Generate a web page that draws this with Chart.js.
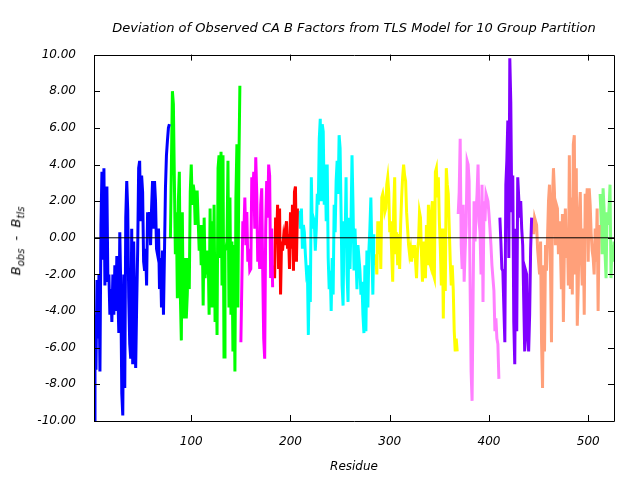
<!DOCTYPE html>
<html>
<head>
<meta charset="utf-8">
<script src="https://cdn.jsdelivr.net/npm/chart.js@4.4.1/dist/chart.umd.min.js"></script>
<style>
  body { margin: 0; background: #fff; }
  #wrap { position: relative; width: 640px; height: 480px; }
  #ylab {
    position: absolute; left: 17px; top: 241px;
    transform: translate(-50%, -50%) rotate(-90deg);
    font-family: 'DejaVu Sans', sans-serif; font-style: italic; font-size: 13px;
    white-space: nowrap; color: #000;
  }
  #ylab sub { font-size: 10px; }
</style>
</head>
<body>
<div id="wrap">
  <canvas id="myChart" width="640" height="480"></canvas>
  <div id="ylab">B<sub>obs</sub>&nbsp; - &nbsp;B<sub>tls</sub></div>
</div>
<script>
'use strict';
// residue ranges of the 10 TLS groups
const groupStarts = [2, 79, 150, 183, 208, 285, 369, 411, 444, 512];
const groupColors = ['#0000ff', '#00ff00', '#ff00ff', '#ff0000', '#00ffff',
  '#ffff00', '#ff80ff', '#8000ff', '#ffa07a', '#80ff80'];

// B_obs - B_tls per residue, one array per group
const group1 = [-10.3, -4.2, -7.2, -2.3, -5.5, -2.0, -7.3, 0.7, 3.6, -1.2,
  3.8, -2.6, 2.4, 2.8, -2.4, -2.0, -4.2, -2.8, -4.6, -2.0,
  -4.2, -1.5, -4.0, -1.0, -3.0, -5.2, 0.3, -2.8, -8.5, -9.7,
  -2.0, -8.2, 1.1, 3.1, 1.5, -3.3, -5.8, -6.6, 0.5, -6.9,
  -0.2, -4.2, -7.1, -3.7, -0.7, 3.8, 4.2, 0.9, 3.4, 2.5,
  -1.3, -1.8, -0.6, -2.6, 1.4, 0.5, 1.4, -0.4, 1.6, 3.1,
  0.5, 3.1, 2.0, -0.6, -0.9, 0.5, -2.8, -1.1, -3.8, -0.7,
  -4.2, -0.9, 2.7, 4.5, 5.3, 6.0, 6.2];
const group2 = [0.0, 4.0, 8.0, 7.3, 3.1, -0.9, 1.4, -3.3, 2.0, 3.6,
  -3.1, -5.6, 1.4, -4.4, -3.1, -1.1, -4.4, -3.1, -1.1, -2.8,
  2.5, 4.0, 1.8, 2.9, 2.5, 0.7, 2.5,
  2.5, 0.9, -0.7, 0.7, -1.5, 0.7, -3.7, 1.1, -2.2, -0.7,
  -2.0, -0.7, -4.2, 1.6, -3.8, 0.9, -3.8, 1.8, -4.6, -1.1,
  -5.3, 3.8, 4.5, -1.1, 4.7, -2.6, 4.5, -6.5, -0.7, -0.6,
  -0.2, 4.2, -3.8, 2.2, -4.2, -0.2, -6.2, -0.4, -7.3, 2.2,
  5.1, -3.8, 4.0, 8.3];
const group3 = [-5.7, -2.4, 0.9, 0.2, 2.2, -0.4, 1.4, -1.3, -0.6, -1.8,
  -1.7, 3.3, 2.5, 3.6, 0.5, 4.4, 2.4, -1.3, -0.6, -1.7,
  1.8, 2.7, -1.7, -5.5, -6.6, 0.5, 3.1, 1.1, 4.0, 3.4,
  -2.2, 0.5, -2.7];
const group4 = [-1.5, -2.2, 1.1, -0.2, 1.8, -1.7, 1.6, -3.1, -0.2, -0.7,
  0.0, -0.4, 0.5, 0.9, -0.6, 0.2, -1.7, 1.4, -0.6, 1.8,
  -1.8, 2.5, 2.8, -1.3, 1.6];
const group5 = [1.4, 1.4, 0.5, 1.6, -0.6, 0.7, 0.3, -0.9, -1.8, -1.5, -5.3,
  -1.5, -3.5, 3.3, 0.5, 1.1, 0.9, -0.7, 0.5, 2.4, 1.8,
  5.4, 6.5, 2.0, 6.2, 5.8, 1.8, 4.0, 0.9, 4.0, -1.1,
  -2.8, -1.8, -4.0, -1.1, -3.1, 1.8, 0.3, 3.1, 4.2, 2.4,
  5.6, 4.9, 1.3, -2.6, -3.7, 0.9, -0.4, 3.3, -2.0, -3.5,
  1.1, -1.7, 0.9, 4.5, 1.8, -1.7, 0.5, -1.1, -2.8, -0.4,
  -1.1, -1.8, -3.1, -2.4, -4.2, -5.2, -1.5, -5.1, -0.7, -3.8,
  -0.7, 0.5, 2.2, -0.7, -3.1, 0.2];
const group6 = [-1.5, -0.9, -2.0, 0.9, -0.9, 0.9, -1.7, 2.2, 2.4, 2.0,
  1.4, 1.6, 2.9, 3.3, 2.5, 0.3, 0.9, -0.9, -2.4, 1.6,
  3.3, -0.9, 0.3, -1.5, 0.2, -1.7, 0.7, 2.2, 3.3,
  4.0, 3.4, 3.1, 1.4, 0.5, -0.4, -0.9, -0.6, -1.3, -0.4,
  -1.1, -0.4, -1.3, -2.2, -0.7, -0.2, 1.4, 1.1, -0.9, -2.4,
  -0.2, -1.5, -2.2, 0.7, -1.5, 1.8, -1.3, -1.5, 1.4, 2.0,
  -2.0, -2.2, 3.6, 3.8, 2.2, 3.3, 0.9, -0.6, -2.6, 0.5,
  -4.4, 0.5, -2.9, 3.8, 2.9, 2.4, 0.5, -1.3, -2.6, -1.5,
  -2.8, -5.1, -6.2, -5.5, -6.2];
const group7 = [1.3, 2.5, 5.4, -0.4, -1.7, 1.8, -2.4, -0.7, 0.7, 4.2,
  4.0, 3.1, -2.6, -7.3, -8.9, -3.3, 2.0, -0.2, 1.4, 2.4,
  4.0, 0.9, 0.3, -2.0, 2.9, -3.5, 2.0, 0.9, 2.4, 2.2,
  2.0, 1.3, 0.5, -0.4, -1.5, -2.2, -2.9, -5.1, -4.4, -5.5,
  -5.8, -7.7];
const group8 = [1.1, -0.2, -1.7, -1.8, -3.8, -5.7, 2.9, 4.2, 6.4, -1.1,
  9.8, 7.4, 1.4, 3.4, -4.6, -6.9, 0.5, -5.1, 3.3, 2.2,
  1.1, 2.0, 0.5, -0.4, -3.3, -6.2, -1.8, -2.0, -5.5, -6.2,
  -4.2, -0.6, 1.1];
const group9 = [0.9, 0.2, 1.1, 0.9, 0.7, -0.6, -1.3, -2.0, -0.2, -5.7,
  -8.2, -1.5, -6.2, -0.4, -1.8, 0.0, 2.0, 2.9, -1.7, -5.7,
  2.2, 3.8, 2.5, -0.4, 1.8, 1.6, -0.9, 0.9, -0.6, -2.8,
  1.3, -4.6, -0.6, 1.6, -1.1, 0.3, -2.6, 4.5, -2.8, 2.2,
  -3.1, 5.1, 5.6, -2.0, 3.8, -4.8, -2.6, 1.3, 2.5, -0.9,
  -2.6, 0.5, -4.2, 2.4, 1.6, 2.7, -1.3, 2.7, 1.8, 0.2,
  -0.7, -1.1, -2.0, 0.5, -1.3, 1.6, -4.0, 0.7];
const group10 = [2.4, 1.1, -0.9, 2.7, 1.6, -0.9, -2.2, 1.4, 0.7, 1.6,
  2.9, -2.2, -0.4, -1.3, -0.2];

const groups = [group1, group2, group3, group4, group5, group6, group7, group8, group9, group10];
const xTicks = [100, 200, 300, 400, 500];
const yTicks = [-10, -8, -6, -4, -2, 0, 2, 4, 6, 8, 10];
const xMin = 2;
const xMax = 526;

const fontFamily = "'DejaVu Sans', sans-serif";

let datasets = [];
// zero line on top
datasets.push({
  data: [{ x: xMin, y: 0 }, { x: xMax, y: 0 }],
  borderColor: '#000000',
  borderWidth: 1,
  pointRadius: 0
});
for (let i = 0; i < groups.length; i++) {
  let pts = groups[i].map((v, j) => ({ x: groupStarts[i] + j, y: v }));
  datasets.push({
    data: pts,
    borderColor: groupColors[i],
    borderWidth: 3,
    pointRadius: 0,
    tension: 0
  });
}

// frame with inward ticks on all four sides (gnuplot style)
const framePlugin = {
  id: 'frame',
  afterDatasetsDraw(chart) {
    const { ctx, chartArea: a, scales } = chart;
    ctx.save();
    ctx.strokeStyle = '#000';
    ctx.lineWidth = 1;
    ctx.beginPath();
    ctx.rect(Math.round(a.left) + 0.5, Math.round(a.top) + 0.5,
      Math.round(a.right - a.left), Math.round(a.bottom - a.top));
    for (const v of xTicks) {
      const px = Math.round(scales.x.getPixelForValue(v)) + 0.5;
      ctx.moveTo(px, a.bottom); ctx.lineTo(px, a.bottom - 6);
      ctx.moveTo(px, a.top); ctx.lineTo(px, a.top + 6);
    }
    for (const v of yTicks) {
      const py = Math.round(scales.y.getPixelForValue(v)) + 0.5;
      ctx.moveTo(a.left, py); ctx.lineTo(a.left + 6, py);
      ctx.moveTo(a.right, py); ctx.lineTo(a.right - 6, py);
    }
    ctx.stroke();
    ctx.restore();
  }
};

const ctx = document.getElementById('myChart').getContext('2d');
const chart = new Chart(ctx, {
  type: 'line',
  data: { datasets: datasets },
  options: {
    responsive: false,
    animation: false,
    devicePixelRatio: 1,
    layout: { padding: { left: 30, right: 26, top: 0, bottom: 0 } },
    plugins: {
      legend: { display: false },
      tooltip: { enabled: false },
      title: {
        display: true,
        fullSize: false,
        text: 'Deviation of Observed CA B Factors from TLS Model for 10 Group Partition',
        color: '#000',
        font: { family: fontFamily, size: 13, style: 'italic', weight: 'normal' },
        padding: { top: 21, bottom: 18 }
      }
    },
    scales: {
      x: {
        type: 'linear',
        min: xMin,
        max: xMax,
        grid: { display: false },
        border: { display: false },
        afterBuildTicks(scale) {
          scale.ticks = xTicks.map(v => ({ value: v }));
        },
        afterFit(scale) { scale.height = 59; },
        ticks: {
          color: '#000',
          padding: 6,
          maxRotation: 0,
          autoSkip: false,
          font: { family: fontFamily, size: 12, style: 'italic' }
        },
        title: {
          display: true,
          text: 'Residue',
          color: '#000',
          padding: { top: 0, bottom: 6 },
          font: { family: fontFamily, size: 12, style: 'italic' }
        }
      },
      y: {
        min: -10,
        max: 10,
        grid: { display: false },
        border: { display: false },
        afterBuildTicks(scale) {
          scale.ticks = yTicks.map(v => ({ value: v }));
        },
        afterFit(scale) { scale.width = 64; },
        ticks: {
          color: '#000',
          padding: 10,
          callback: v => v.toFixed(2),
          font: { family: fontFamily, size: 12, style: 'italic' }
        }
      }
    }
  },
  plugins: [framePlugin]
});
</script>
</body>
</html>
